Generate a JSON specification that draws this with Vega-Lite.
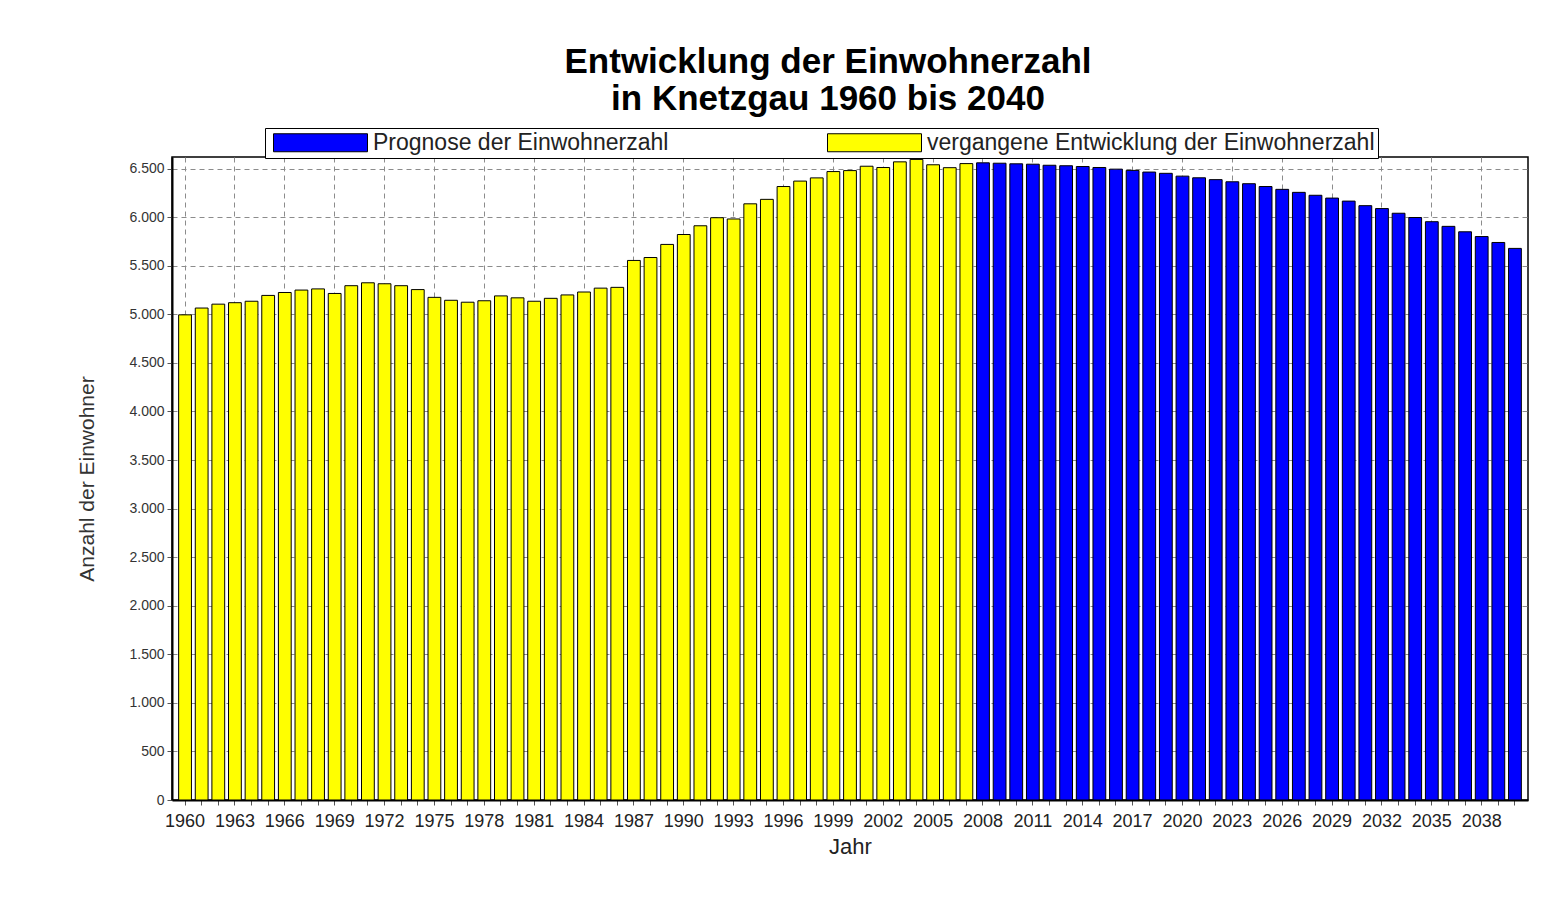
{
  "$schema": "https://vega.github.io/schema/vega-lite/v6.json",
  "autosize": {"type": "none"},
  "width": 1356,
  "height": 643,
  "padding": {"left": 172, "top": 157, "right": 38, "bottom": 116},
  "background": "white",
  "title": {
    "text": ["Entwicklung der Einwohnerzahl", "in Knetzgau 1960 bis 2040"],
    "font": "Liberation Sans",
    "fontSize": 35,
    "fontWeight": "bold",
    "color": "black",
    "anchor": "middle",
    "lineHeight": 37,
    "offset": 11,
    "dx": -22
  },
  "data": {
    "values": [
      {"Jahr": 1960, "Einwohner": 4995, "Reihe": "V"},
      {"Jahr": 1961, "Einwohner": 5065, "Reihe": "V"},
      {"Jahr": 1962, "Einwohner": 5105, "Reihe": "V"},
      {"Jahr": 1963, "Einwohner": 5120, "Reihe": "V"},
      {"Jahr": 1964, "Einwohner": 5135, "Reihe": "V"},
      {"Jahr": 1965, "Einwohner": 5195, "Reihe": "V"},
      {"Jahr": 1966, "Einwohner": 5225, "Reihe": "V"},
      {"Jahr": 1967, "Einwohner": 5250, "Reihe": "V"},
      {"Jahr": 1968, "Einwohner": 5262, "Reihe": "V"},
      {"Jahr": 1969, "Einwohner": 5215, "Reihe": "V"},
      {"Jahr": 1970, "Einwohner": 5295, "Reihe": "V"},
      {"Jahr": 1971, "Einwohner": 5325, "Reihe": "V"},
      {"Jahr": 1972, "Einwohner": 5315, "Reihe": "V"},
      {"Jahr": 1973, "Einwohner": 5295, "Reihe": "V"},
      {"Jahr": 1974, "Einwohner": 5255, "Reihe": "V"},
      {"Jahr": 1975, "Einwohner": 5175, "Reihe": "V"},
      {"Jahr": 1976, "Einwohner": 5145, "Reihe": "V"},
      {"Jahr": 1977, "Einwohner": 5125, "Reihe": "V"},
      {"Jahr": 1978, "Einwohner": 5140, "Reihe": "V"},
      {"Jahr": 1979, "Einwohner": 5190, "Reihe": "V"},
      {"Jahr": 1980, "Einwohner": 5170, "Reihe": "V"},
      {"Jahr": 1981, "Einwohner": 5135, "Reihe": "V"},
      {"Jahr": 1982, "Einwohner": 5165, "Reihe": "V"},
      {"Jahr": 1983, "Einwohner": 5200, "Reihe": "V"},
      {"Jahr": 1984, "Einwohner": 5230, "Reihe": "V"},
      {"Jahr": 1985, "Einwohner": 5270, "Reihe": "V"},
      {"Jahr": 1986, "Einwohner": 5278, "Reihe": "V"},
      {"Jahr": 1987, "Einwohner": 5555, "Reihe": "V"},
      {"Jahr": 1988, "Einwohner": 5585, "Reihe": "V"},
      {"Jahr": 1989, "Einwohner": 5720, "Reihe": "V"},
      {"Jahr": 1990, "Einwohner": 5822, "Reihe": "V"},
      {"Jahr": 1991, "Einwohner": 5912, "Reihe": "V"},
      {"Jahr": 1992, "Einwohner": 5995, "Reihe": "V"},
      {"Jahr": 1993, "Einwohner": 5982, "Reihe": "V"},
      {"Jahr": 1994, "Einwohner": 6138, "Reihe": "V"},
      {"Jahr": 1995, "Einwohner": 6184, "Reihe": "V"},
      {"Jahr": 1996, "Einwohner": 6316, "Reihe": "V"},
      {"Jahr": 1997, "Einwohner": 6372, "Reihe": "V"},
      {"Jahr": 1998, "Einwohner": 6405, "Reihe": "V"},
      {"Jahr": 1999, "Einwohner": 6470, "Reihe": "V"},
      {"Jahr": 2000, "Einwohner": 6480, "Reihe": "V"},
      {"Jahr": 2001, "Einwohner": 6525, "Reihe": "V"},
      {"Jahr": 2002, "Einwohner": 6512, "Reihe": "V"},
      {"Jahr": 2003, "Einwohner": 6570, "Reihe": "V"},
      {"Jahr": 2004, "Einwohner": 6595, "Reihe": "V"},
      {"Jahr": 2005, "Einwohner": 6540, "Reihe": "V"},
      {"Jahr": 2006, "Einwohner": 6510, "Reihe": "V"},
      {"Jahr": 2007, "Einwohner": 6552, "Reihe": "V"},
      {"Jahr": 2008, "Einwohner": 6560, "Reihe": "P"},
      {"Jahr": 2009, "Einwohner": 6556, "Reihe": "P"},
      {"Jahr": 2010, "Einwohner": 6550, "Reihe": "P"},
      {"Jahr": 2011, "Einwohner": 6546, "Reihe": "P"},
      {"Jahr": 2012, "Einwohner": 6535, "Reihe": "P"},
      {"Jahr": 2013, "Einwohner": 6530, "Reihe": "P"},
      {"Jahr": 2014, "Einwohner": 6522, "Reihe": "P"},
      {"Jahr": 2015, "Einwohner": 6512, "Reihe": "P"},
      {"Jahr": 2016, "Einwohner": 6495, "Reihe": "P"},
      {"Jahr": 2017, "Einwohner": 6482, "Reihe": "P"},
      {"Jahr": 2018, "Einwohner": 6465, "Reihe": "P"},
      {"Jahr": 2019, "Einwohner": 6452, "Reihe": "P"},
      {"Jahr": 2020, "Einwohner": 6423, "Reihe": "P"},
      {"Jahr": 2021, "Einwohner": 6406, "Reihe": "P"},
      {"Jahr": 2022, "Einwohner": 6387, "Reihe": "P"},
      {"Jahr": 2023, "Einwohner": 6365, "Reihe": "P"},
      {"Jahr": 2024, "Einwohner": 6345, "Reihe": "P"},
      {"Jahr": 2025, "Einwohner": 6316, "Reihe": "P"},
      {"Jahr": 2026, "Einwohner": 6287, "Reihe": "P"},
      {"Jahr": 2027, "Einwohner": 6256, "Reihe": "P"},
      {"Jahr": 2028, "Einwohner": 6226, "Reihe": "P"},
      {"Jahr": 2029, "Einwohner": 6197, "Reihe": "P"},
      {"Jahr": 2030, "Einwohner": 6166, "Reihe": "P"},
      {"Jahr": 2031, "Einwohner": 6119, "Reihe": "P"},
      {"Jahr": 2032, "Einwohner": 6089, "Reihe": "P"},
      {"Jahr": 2033, "Einwohner": 6041, "Reihe": "P"},
      {"Jahr": 2034, "Einwohner": 5997, "Reihe": "P"},
      {"Jahr": 2035, "Einwohner": 5954, "Reihe": "P"},
      {"Jahr": 2036, "Einwohner": 5906, "Reihe": "P"},
      {"Jahr": 2037, "Einwohner": 5850, "Reihe": "P"},
      {"Jahr": 2038, "Einwohner": 5801, "Reihe": "P"},
      {"Jahr": 2039, "Einwohner": 5740, "Reihe": "P"},
      {"Jahr": 2040, "Einwohner": 5679, "Reihe": "P"}
    ]
  },
  "mark": {"type": "bar", "stroke": "black", "strokeWidth": 1},
  "encoding": {
    "x": {
      "field": "Jahr",
      "type": "ordinal",
      "scale": {"paddingInner": 0.23, "paddingOuter": 0.4},
      "axis": {
        "title": "Jahr",
        "titleFont": "Liberation Sans",
        "titleFontSize": 22,
        "titleFontWeight": "normal",
        "titleColor": "#222222",
        "titlePadding": 6,
        "labelExpr": "(datum.value - 1960) % 3 == 0 ? datum.label : ''",
        "labelAngle": 0,
        "labelFont": "Liberation Sans",
        "labelFontSize": 18,
        "labelColor": "#222222",
        "labelPadding": 7,
        "labelOverlap": false,
        "tickSize": 5,
        "tickColor": "#555555",
        "bandPosition": 0.5,
        "domainColor": "black",
        "domainWidth": 2,
        "grid": true,
        "gridDash": [5, 4],
        "gridColor": "#8c8c8c",
        "gridWidth": 1,
        "gridOpacity": {"condition": {"test": "(datum.value - 1960) % 3 == 0", "value": 1}, "value": 0}
      }
    },
    "y": {
      "field": "Einwohner",
      "type": "quantitative",
      "scale": {"domain": [0, 6620], "nice": false},
      "axis": {
        "title": "Anzahl der Einwohner",
        "titleFont": "Liberation Sans",
        "titleFontSize": 21,
        "titleFontWeight": "normal",
        "titleColor": "#333333",
        "titlePadding": 31,
        "values": [0, 500, 1000, 1500, 2000, 2500, 3000, 3500, 4000, 4500, 5000, 5500, 6000, 6500],
        "labelExpr": "replace(format(datum.value, ','), ',', '.')",
        "labelFont": "Liberation Sans",
        "labelFontSize": 14,
        "labelColor": "#333333",
        "labelPadding": 3,
        "tickSize": 5,
        "tickColor": "#555555",
        "domainColor": "black",
        "domainWidth": 2,
        "grid": true,
        "gridDash": [5, 4],
        "gridColor": "#8c8c8c",
        "gridWidth": 1
      }
    },
    "color": {
      "field": "Reihe",
      "type": "nominal",
      "scale": {"domain": ["P", "V"], "range": ["#0000FF", "#FFFF00"]},
      "legend": {
        "orient": "none",
        "legendX": 93,
        "legendY": -29,
        "direction": "horizontal",
        "title": null,
        "labelExpr": "datum.value == 'P' ? 'Prognose der Einwohnerzahl' : 'vergangene Entwicklung der Einwohnerzahl'",
        "symbolType": "M-4.7,-0.9H4.7V0.9H-4.7Z",
        "symbolSize": 400,
        "symbolStrokeColor": "black",
        "symbolStrokeWidth": 1,
        "symbolOffset": 41,
        "labelOffset": 41,
        "labelFont": "Liberation Sans",
        "labelFontSize": 23,
        "labelColor": "#222222",
        "labelLimit": 700,
        "columnPadding": 153,
        "strokeColor": "black",
        "fillColor": "white",
        "padding": 3
      }
    }
  },
  "config": {"view": {"stroke": "black", "strokeWidth": 1.5}}
}
